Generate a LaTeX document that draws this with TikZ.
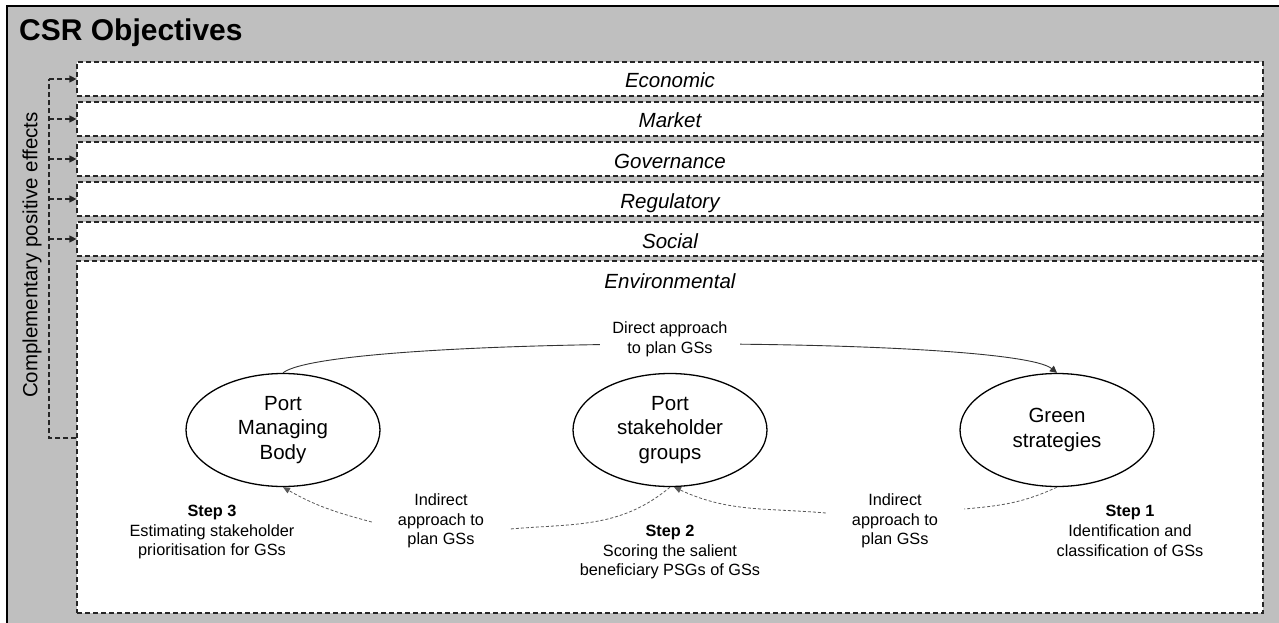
\documentclass[tikz,border=0pt]{standalone}
\usepackage{fontspec}
\setmainfont{Liberation Sans}
\usetikzlibrary{shapes.geometric,arrows.meta}
\definecolor{bggray}{RGB}{191,191,191}
\begin{document}
\begin{tikzpicture}[x=1pt,y=-1pt,
  bigfont/.style={font=\fontsize{20.5}{24.5}\selectfont},
  smallfont/.style={font=\fontsize{16.3}{19.7}\selectfont},
  bandbox/.style={draw=black!85, line width=1.2pt, dash pattern=on 5pt off 3pt, fill=white,
    minimum width=1186pt, minimum height=34pt, inner sep=0pt,
    font=\fontsize{20.5}{24.5}\selectfont\itshape, text height=18pt, text depth=0pt},
  brk/.style={draw=black!85, line width=1.2pt, dash pattern=on 5pt off 3pt},
  arrtip/.style={-{Triangle[length=7pt,width=7pt]}},
  smalltip/.style={-{Triangle[length=7pt,width=6pt]}},
  actorell/.style={ellipse, draw=black, line width=1.3pt, fill=white, minimum width=194pt,
    minimum height=113pt, inner sep=0pt, align=center, bigfont},
  steptext/.style={align=center, smallfont, inner sep=0pt},
  applabel/.style={align=center, smallfont, inner xsep=26pt, inner ysep=2pt},
  indline/.style={draw=black!65, line width=0.8pt, dash pattern=on 3pt off 2pt},
  dirline/.style={draw=black!80, line width=0.9pt}
]
\useasboundingbox (0,0) rectangle (1279,623);
\fill[white] (0,0) rectangle (1279,623);
\fill[bggray] (7,6) rectangle (1279,623);
\draw[line width=1.5pt] (7,623) -- (7,6) -- (1279,6);

\node[anchor=base west, inner sep=0pt, font=\fontsize{30}{36}\selectfont\bfseries] (title) at (19,41) {CSR Objectives};

\node[bandbox] (eco) at (670,79) {Economic};
\node[bandbox] (mkt) at (670,119) {Market};
\node[bandbox] (gov) at (670,159) {Governance};
\node[bandbox] (reg) at (670,199) {Regulatory};
\node[bandbox] (soc) at (670,239) {Social};
\node[bandbox, minimum height=352pt] (env) at (670,437) {};
\node[font=\fontsize{20.5}{24.5}\selectfont\itshape, inner sep=0pt] (envlab) at (670,281) {Environmental};

\coordinate (bk) at (49,438);
\draw[brk] (bk -| env.west) -- (bk) -- (bk |- eco.west);
\foreach \b in {eco,mkt,gov,reg,soc} \draw[brk, arrtip] (bk |- \b.west) -- (\b.west);

\node[rotate=90, bigfont, inner sep=0pt] (cpe) at (32,255) {Complementary positive effects};

\node[actorell] (pmb) at (283,430) {Port\\Managing\\Body};
\node[actorell] (psg) at (670,430) {Port\\stakeholder\\groups};
\node[actorell] (gs) at (1057,430) {Green\\strategies};

\draw[dirline, arrtip] (pmb.north) .. controls (330,335) and (1010,335) .. (gs.north);
\node[smallfont, align=center, fill=white, inner xsep=12pt, inner ysep=1pt] (dlab) at (670,339) {Direct approach\\to plan GSs};

\node[applabel] (ilab) at (441,521) {Indirect\\approach to\\plan GSs};
\node[applabel] (irab) at (895,521) {Indirect\\approach to\\plan GSs};

\draw[indline] (gs.south) to[out=205,in=5] ([yshift=12pt]irab.east);
\draw[indline, smalltip] ([yshift=8pt]irab.west) to[out=175,in=-25] (psg.-86);
\draw[indline] (psg.south) to[out=220,in=5] ([yshift=-8pt]ilab.east);
\draw[indline, smalltip] ([yshift=-1pt]ilab.west) to[out=165,in=-30] (pmb.south);

\node[steptext] (s3) at (212,532) {\textbf{Step 3}\\Estimating stakeholder\\prioritisation for GSs};
\node[steptext] (s2) at (670,552) {\textbf{Step 2}\\Scoring the salient\\beneficiary PSGs of GSs};
\node[steptext] (s1) at (1130,531) {\textbf{Step 1}\\Identification and\\classification of GSs};
\end{tikzpicture}
\end{document}
